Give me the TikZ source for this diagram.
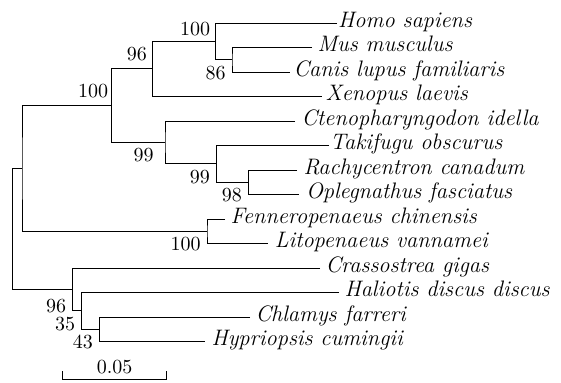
\documentclass[tikz,border=0pt]{standalone}
\usepackage{fontspec}
\usepackage{tikz}
\usetikzlibrary{calc}

\begin{document}
\begin{tikzpicture}[x=0.5pt,y=-0.5pt,line width=0.5pt,
    leaf/.style={anchor=west,inner ysep=0pt,text height=8pt,text depth=4pt,
                 font=\fontsize{11.2}{13}\selectfont\itshape},
    bs/.style={inner sep=1pt,font=\fontsize{10}{12}\selectfont},
    bsup/.style={bs,anchor=south east,xshift=-1.5pt,yshift=1.5pt},
    bsdn/.style={bs,anchor=north east,xshift=-2pt,yshift=-1.75pt}]
    \useasboundingbox (0,0) rectangle (561,382);

    % leaves: name / end of branch / row / gap / text
    \foreach \nm/\xe/\row/\gap/\lab in {
        homo/337/0/0.3/Homo sapiens,
        mus/312/1/2.5/Mus musculus,
        canis/290/2/1.5/Canis lupus familiaris,
        xeno/322/3/1.5/Xenopus laevis,
        cten/295/4/3/Ctenopharyngodon idella,
        taki/329/5/0.3/Takifugu obscurus,
        rach/297/6/3/Rachycentron canadum,
        opleg/298.5/7/3.5/Oplegnathus fasciatus,
        fenner/225/8/2.5/Fenneropenaeus chinensis,
        lito/268.3/9/3/Litopenaeus vannamei,
        crass/320/10/2.5/Crassostrea gigas,
        hali/339/11/2.5/Haliotis discus discus,
        chlam/250/12/2.5/Chlamys farreri,
        hypr/205/13/3/Hypriopsis cumingii} {
        \node[leaf,inner xsep=\gap pt] (\nm) at (\xe,{23+24.5*\row}) {\lab};
    }

    % internal nodes
    \coordinate (mc)   at (232,59.75);
    \coordinate (hs)   at (215.7,41.4);
    \coordinate (tet)  at (152.3,68.9);
    \coordinate (ro)   at (248.3,182.25);
    \coordinate (tk)   at (216.3,163.9);
    \coordinate (fish) at (165,142.4);
    \coordinate (vert) at (111.7,105.7);
    \coordinate (shr)  at (207,231.25);
    \coordinate (bil)  at (22,168.5);
    \coordinate (hc)   at (99.3,329.25);
    \coordinate (hal)  at (81.7,310.9);
    \coordinate (mol)  at (72.7,289.4);
    \coordinate (root) at (12.7,229);

    % branches
    \draw (mus.west) -| (mc) |- (canis.west);
    \draw (homo.west) -| (hs) |- (mc);
    \draw (hs) -| (tet) |- (xeno.west);
    \draw (rach.west) -| (ro) |- (opleg.west);
    \draw (taki.west) -| (tk) |- (ro);
    \draw (cten.west) -| (fish) |- (tk);
    \draw (tet) -| (vert) |- (fish);
    \draw (fenner.west) -| (shr) |- (lito.west);
    \draw (vert) -| (bil) |- (shr);
    \draw (chlam.west) -| (hc) |- (hypr.west);
    \draw (hali.west) -| (hal) |- (hc);
    \draw (crass.west) -| (mol) |- (hal);
    \draw (bil) -| (root) |- (mol);

    % bootstrap values
    \node[bsup] (b1) at (hs) {100};
    \node[bsup,yshift=1pt] (b2) at (tet) {96};
    \node[bsup,xshift=1pt,yshift=1pt] (b3) at (vert) {100};
    \node[bsdn] (b4) at (mc) {86};
    \node[bsdn,xshift=-2.5pt] (b5) at (fish) {99};
    \node[bsdn] (b6) at (tk) {99};
    \node[bsdn] (b7) at (ro) {98};
    \node[bsdn] (b8) at (shr) {100};
    \node[bsdn,yshift=-1.7pt] (b9) at (mol) {96};
    \node[bsdn] (b10) at (hal) {35};
    \node[bsdn] (b11) at (hc) {43};

    % scale bar
    \coordinate (sbl) at (62.7,379.5);
    \coordinate (sbr) at (166.7,379.5);
    \draw (sbl) ++(0,-8.5) -- (sbl) -- (sbr) -- ++(0,-8.5);
    \node[bs,anchor=south] (sbt) at ($(sbl)!0.5!(sbr)+(0,-3)$) {0.05};
\end{tikzpicture}
\end{document}
